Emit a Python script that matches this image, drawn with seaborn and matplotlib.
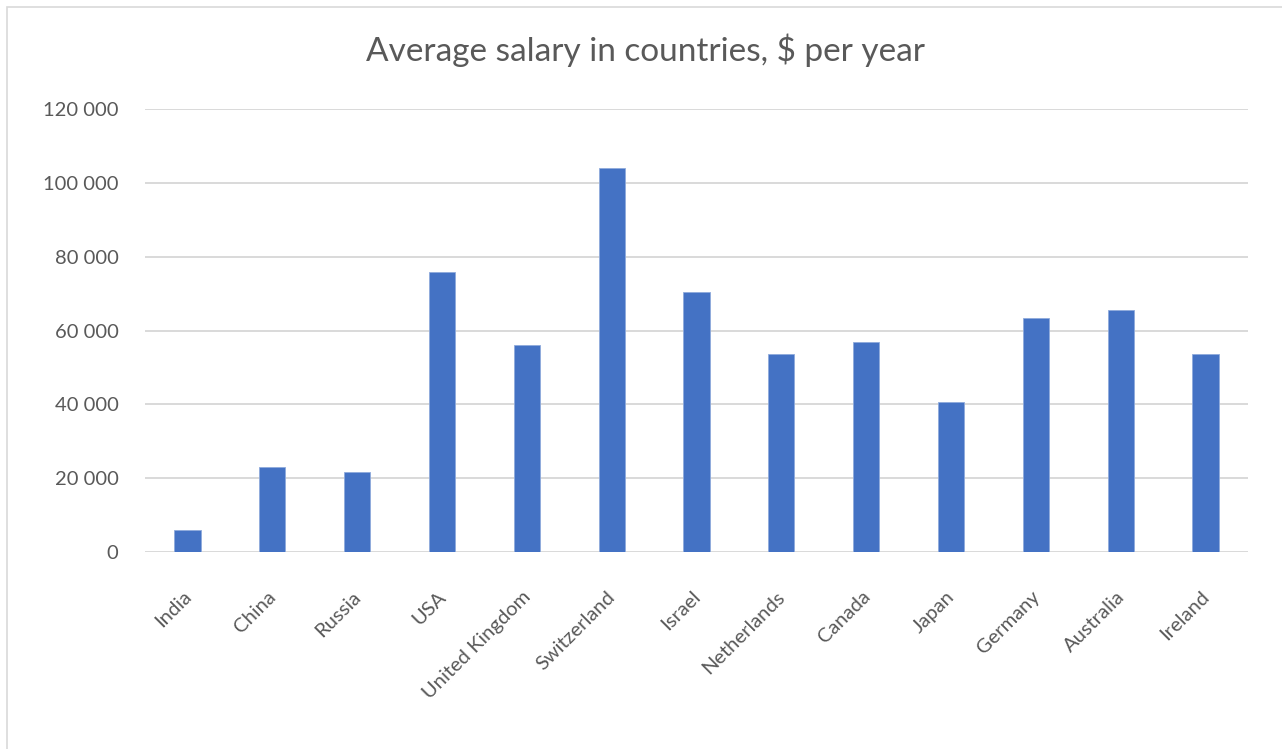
import matplotlib
matplotlib.use("Agg")
import matplotlib.pyplot as plt
import matplotlib.ticker as mticker
from matplotlib.patches import Rectangle
from matplotlib.transforms import ScaledTranslation
import seaborn as sns
import pandas as pd

countries = ["India", "China", "Russia", "USA", "United Kingdom", "Switzerland",
             "Israel", "Netherlands", "Canada", "Japan", "Germany", "Australia", "Ireland"]
salaries = [6000, 23000, 21700, 75800, 56200, 104000,
            70500, 53500, 57000, 40500, 63300, 65500, 53500]
y_ticks = [0, 20000, 40000, 60000, 80000, 100000, 120000]

title = "Average salary in countries, $ per year"
bar_color = "#4472C4"
text_color = "#595959"
grid_color = "#D9D9D9"

sns.set_theme(style="white")
plt.rcParams["font.family"] = ["Lato", "DejaVu Sans"]

df = pd.DataFrame({"country": countries, "salary": salaries})

W, H = 1282, 749
fig = plt.figure(figsize=(W / 100, H / 100), dpi=100)
ax = fig.add_axes([145 / W, 1 - 552 / H, (1248 - 145) / W, (552 - 109) / H])

sns.barplot(data=df, x="country", y="salary", color=bar_color, saturation=1,
            width=0.31, ax=ax, edgecolor="#8FAADC", linewidth=0.6, zorder=3)

ax.set_ylim(0, 120000)
ax.set_yticks(y_ticks)
ax.yaxis.set_major_formatter(mticker.FuncFormatter(lambda v, p: f"{v:,.0f}".replace(",", " ")))
ax.set_xlim(-0.5, len(countries) - 0.5)
ax.set_xlabel("")
ax.set_ylabel("")
ax.yaxis.grid(True, color=grid_color, linewidth=1.4, zorder=0)
ax.set_axisbelow(True)
for s in ax.spines.values():
    s.set_visible(False)

ax.tick_params(axis="y", length=0, pad=19, labelsize=14.5, labelcolor=text_color)
ax.tick_params(axis="x", length=0, pad=26, labelsize=14.5, labelcolor=text_color)
shift = ScaledTranslation(-5 / 100, 0, fig.dpi_scale_trans)
for lbl in ax.get_xticklabels():
    lbl.set_rotation(45)
    lbl.set_ha("right")
    lbl.set_rotation_mode("anchor")
    lbl.set_transform(lbl.get_transform() + shift)

fig.text(645 / W, 1 - 50 / H, title, ha="center", va="center",
         fontsize=24, color=text_color)

# chart frame
fig.patches.append(Rectangle((7 / W, -0.05), 1.1, 1 - 6.5 / H + 0.05,
                             transform=fig.transFigure, fill=False,
                             edgecolor="#D9D9D9", linewidth=1.2))

fig.savefig("out.png", dpi=100)
